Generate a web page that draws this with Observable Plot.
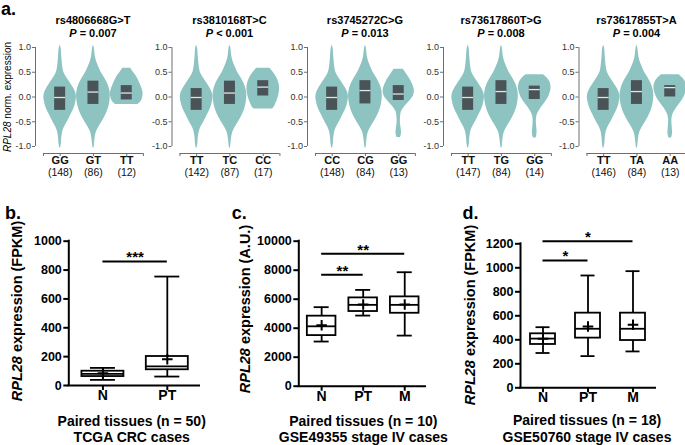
<!DOCTYPE html>
<html><head><meta charset="utf-8">
<script src="https://cdn.jsdelivr.net/npm/d3@7"></script>
<script src="https://cdn.jsdelivr.net/npm/@observablehq/plot@0.6"></script>
<style>
body{margin:0;background:#fff;font-family:"Liberation Sans",Arial,sans-serif;overflow:hidden}
#root{position:relative;width:685px;height:445px;overflow:hidden;background:#fff}
.layer{position:absolute;left:0;top:0}
.t{position:absolute;white-space:nowrap;transform:translate(-50%,-50%);line-height:1;color:#000}
.r{transform:translate(-50%,-50%) rotate(-90deg)}
.lab{position:absolute;font-weight:bold;font-size:18px;line-height:1;color:#000}
</style></head><body><div id="root"></div>
<script>
// ---------- Panel a data ----------
const snpNames = ["rs4806668G>T","rs3810168T>C","rs3745272C>G","rs73617860T>G","rs73617855T>A"];
const pLabels = ["= 0.007","< 0.001","= 0.013","= 0.008","= 0.004"];
const genotypes = [["GG","GT","TT"],["TT","TC","CC"],["CC","CG","GG"],["TT","TG","GG"],["TT","TA","AA"]];
const genoCounts = [[148,86,12],[142,87,17],[148,84,13],[147,84,14],[146,84,13]];
const boxQ1 = [[-0.27,-0.15,-0.06],[-0.27,-0.15,0.02],[-0.27,-0.14,-0.07],[-0.27,-0.15,-0.05],[-0.27,-0.15,0.0]];
const boxMedian = [[-0.01,0.1,0.08],[-0.01,0.08,0.2],[-0.01,0.13,0.06],[-0.01,0.11,0.15],[-0.01,0.11,0.19]];
const boxQ3 = [[0.2,0.32,0.23],[0.17,0.32,0.33],[0.2,0.33,0.23],[0.2,0.33,0.22],[0.17,0.33,0.23]];
const aTicks = [-1,-0.5,0,0.5,1];
// violin density outlines: [value, half-width in category units]
const densityMajor = [[1.03,0.015],[0.95,0.035],[0.85,0.045],[0.72,0.06],[0.6,0.08],[0.5,0.11],[0.4,0.19],[0.3,0.29],[0.18,0.4],[0.08,0.47],[0.0,0.49],[-0.1,0.47],[-0.22,0.42],[-0.35,0.33],[-0.5,0.22],[-0.62,0.12],[-0.72,0.07],[-0.85,0.045],[-0.95,0.035],[-1.03,0.015]];
const densityHet = [[1.03,0.015],[0.95,0.035],[0.85,0.05],[0.75,0.08],[0.62,0.15],[0.5,0.23],[0.38,0.34],[0.25,0.44],[0.1,0.5],[-0.05,0.5],[-0.2,0.46],[-0.35,0.38],[-0.5,0.26],[-0.62,0.15],[-0.72,0.08],[-0.85,0.045],[-0.95,0.03],[-1.03,0.015]];
const densityFlat = [[0.58,0.12],[0.5,0.2],[0.42,0.29],[0.3,0.38],[0.2,0.44],[0.08,0.49],[0.0,0.48],[-0.08,0.44],[-0.15,0.34]];
const densityHex = [[0.58,0.2],[0.5,0.3],[0.4,0.4],[0.28,0.47],[0.15,0.49],[0.02,0.46],[-0.1,0.4],[-0.2,0.33],[-0.24,0.28]];
const densityTail = [[0.56,0.14],[0.48,0.22],[0.4,0.3],[0.28,0.4],[0.13,0.47],[0.02,0.44],[-0.08,0.33],[-0.2,0.17],[-0.3,0.08],[-0.4,0.055],[-0.53,0.05],[-0.65,0.075],[-0.75,0.08],[-0.82,0.05]];
const densityWideTail = [[0.45,0.26],[0.38,0.38],[0.3,0.46],[0.2,0.49],[0.1,0.47],[-0.02,0.4],[-0.12,0.3],[-0.25,0.16],[-0.35,0.08],[-0.45,0.05],[-0.58,0.055],[-0.7,0.07],[-0.78,0.06],[-0.83,0.04]];
const violinProfiles = [
  [densityMajor, densityHet, densityFlat],
  [densityMajor, densityHet, densityHex],
  [densityMajor, densityHet, densityTail],
  [densityMajor, densityHet, densityWideTail],
  [densityMajor, densityHet, densityWideTail]
];

// ---------- Panel b data (TCGA) ----------
const tcgaGroups = ["N","PT"];
const tcgaMin = [39,62], tcgaQ1 = [62,109], tcgaMedian = [81,132], tcgaQ3 = [99,201], tcgaMax = [122,755], tcgaMean = [85,182];
const tcgaTicks = [0,200,400,600,800,1000];
const tcgaSig = [{from:0,to:1,y:860,label:"***"}];
// ---------- Panel c data (GSE49355) ----------
const g49Groups = ["N","PT","M"];
const g49Min = [3080,4870,3490], g49Q1 = [3490,5150,5030], g49Median = [4130,5610,5610], g49Q3 = [4830,6090,6160], g49Max = [5450,6640,7860], g49Mean = [4200,5630,5630];
const g49Ticks = [0,2000,4000,6000,8000,10000];
const g49Sig = [{from:0,to:1,y:7680,label:"**"},{from:0,to:2,y:9130,label:"**"}];
// ---------- Panel d data (GSE50760) ----------
const g50Groups = ["N","PT","M"];
const g50Min = [290,264,303], g50Q1 = [361,414,394], g50Median = [410,492,492], g50Q3 = [450,622,622], g50Max = [505,936,972], g50Mean = [408,511,525];
const g50Ticks = [0,200,400,600,800,1000,1200];
const g50Sig = [{from:0,to:1,y:1061,label:"*"},{from:0,to:2,y:1222,label:"*"}];

// ---------- styles ----------
const FONT = "'Liberation Sans', Arial, sans-serif";
const violinFill = "#8dc4c2", boxFill = "#4a5357", medianColor = "#dde8e8", aAxis = "#6e6e6e";
const W = 700, H = 445;
const root = document.getElementById("root");
const svgStyle = {background: "none", overflow: "visible", maxWidth: "none", fontFamily: FONT};
function addSvg(svg) { svg.classList.add("layer"); root.appendChild(svg); }
function addText(html, x, y, css = {}, cls = "t") {
  const d = document.createElement("div"); d.className = cls; d.innerHTML = html;
  d.style.left = x + "px"; d.style.top = y + "px"; Object.assign(d.style, css); root.appendChild(d);
}

// ---------- Panel a ----------
const aAxisX = [35, 171.5, 307, 443, 578.5];
const aUnit = 33.3, aGap = 0.74;
aAxisX.forEach((ax, i) => {
  const rows = [];
  violinProfiles[i].forEach((prof, g) => prof.forEach(([v, w]) => rows.push({g, v, w})));
  const boxes = genotypes[i].map((name, g) => ({g, q1: boxQ1[i][g], med: boxMedian[i][g], q3: boxQ3[i][g]}));
  const hb = 0.165;
  addSvg(Plot.plot({
    width: W, height: H,
    marginLeft: ax, marginRight: W - ax - (2.5 + aGap) * aUnit, marginTop: 47, marginBottom: H - 146,
    x: {domain: [-aGap, 2.5]},
    y: {domain: [-1, 1]},
    style: svgStyle,
    marks: [
      Plot.areaX(rows, {y: "v", x1: d => d.g - d.w, x2: d => d.g + d.w, z: "g", fill: violinFill, curve: "catmull-rom"}),
      Plot.rect(boxes, {x1: d => d.g - hb, x2: d => d.g + hb, y1: "q1", y2: "q3", fill: boxFill}),
      Plot.ruleY(boxes, {x1: d => d.g - hb, x2: d => d.g + hb, y: "med", stroke: medianColor, strokeWidth: 1.3}),
      Plot.ruleX([-aGap], {y1: -1, y2: 1, stroke: aAxis}),
      Plot.axisY({ticks: aTicks, tickSize: 3, tickFormat: () => "", stroke: aAxis, label: null}),
      Plot.text(aTicks, {y: d => d, text: d => d.toFixed(1), frameAnchor: "left", textAnchor: "end", dx: -4.5, fontSize: 9, fill: "#333"}),
      Plot.ruleY([-1], {x1: -0.5, x2: 2.5, dy: 7, stroke: aAxis}),
      Plot.axisX({ticks: [-0.5, 0, 1, 2, 2.5], tickSize: 3, dy: 7, tickFormat: () => "", stroke: aAxis, label: null}),
      Plot.text(genotypes[i], {x: (d, j) => j, text: d => d, frameAnchor: "bottom", dy: 17, fontSize: 11, fontWeight: "bold", fill: "#111"}),
      Plot.text(genoCounts[i], {x: (d, j) => j, text: d => `(${d})`, frameAnchor: "bottom", dy: 29, fontSize: 10.5, fill: "#111"})
    ]
  }));
  const cx = ax + (1 + aGap) * aUnit;
  addText(snpNames[i].replace(">", "&gt;"), cx, 20, {fontSize: "11px", fontWeight: "bold"});
  addText(`<i>P</i> ${pLabels[i].replace("<", "&lt;")}`, cx, 33.3, {fontSize: "11px", fontWeight: "bold"});
});
addText("<i>RPL28</i> norm. expression", 7.5, 97, {fontSize: "10px"}, "t r");

// ---------- Box panels ----------
function boxPanel(cfg) {
  const {groups, mins, q1s, meds, q3s, maxs, means, ticks, sig, left, right, y0, yTop, xdom, boxPx, capPx} = cfg;
  const unit = (right - left) / (xdom[1] - xdom[0]);
  const hb = boxPx / unit, hc = capPx / unit;
  const yMax = ticks[ticks.length - 1];
  const data = groups.map((g, i) => ({i, min: mins[i], q1: q1s[i], med: meds[i], q3: q3s[i], max: maxs[i], mean: means[i]}));
  addSvg(Plot.plot({
    width: W, height: H,
    marginLeft: left, marginRight: W - right, marginTop: yTop, marginBottom: H - y0,
    x: {domain: xdom},
    y: {domain: [0, yMax]},
    style: svgStyle,
    marks: [
      Plot.ruleX(data, {x: "i", y1: "q3", y2: "max", strokeWidth: 1.8}),
      Plot.ruleX(data, {x: "i", y1: "min", y2: "q1", strokeWidth: 1.8}),
      Plot.ruleY(data, {x1: d => d.i - hc, x2: d => d.i + hc, y: "max", strokeWidth: 1.8}),
      Plot.ruleY(data, {x1: d => d.i - hc, x2: d => d.i + hc, y: "min", strokeWidth: 1.8}),
      Plot.rect(data, {x1: d => d.i - hb, x2: d => d.i + hb, y1: "q1", y2: "q3", fill: "white", stroke: "black", strokeWidth: 1.8}),
      Plot.ruleY(data, {x1: d => d.i - hb, x2: d => d.i + hb, y: "med", strokeWidth: 1.8}),
      Plot.dot(data, {x: "i", y: "mean", symbol: "plus", r: 3.5, stroke: "black", strokeWidth: 2}),
      Plot.ruleY(sig, {x1: "from", x2: "to", y: "y", strokeWidth: 2}),
      Plot.text(sig, {x: d => (d.from + d.to) / 2, y: "y", text: "label", lineAnchor: "bottom", dy: 1, fontSize: 15, fontWeight: "bold"}),
      Plot.ruleX([xdom[0]], {y1: 0, y2: yMax, strokeWidth: 2, strokeLinecap: "square"}),
      Plot.ruleY([0], {x1: xdom[0], x2: xdom[1], strokeWidth: 2, strokeLinecap: "square"}),
      Plot.axisY({ticks, tickSize: 5, strokeWidth: 2, tickFormat: () => "", color: "black", label: null}),
      Plot.text(ticks, {y: d => d, text: d3.format("d"), frameAnchor: "left", textAnchor: "end", dx: -7, fontSize: 12.5, fontWeight: "bold"}),
      Plot.axisX({ticks: groups.map((g, i) => i), tickSize: 5, strokeWidth: 2, tickFormat: () => "", color: "black", label: null}),
      Plot.text(groups, {x: (d, i) => i, text: d => d, frameAnchor: "bottom", dy: 14.5, fontSize: 14, fontWeight: "bold"})
    ]
  }));
}
boxPanel({groups: tcgaGroups, mins: tcgaMin, q1s: tcgaQ1, meds: tcgaMedian, q3s: tcgaQ3, maxs: tcgaMax, means: tcgaMean, ticks: tcgaTicks, sig: tcgaSig,
  left: 68.3, right: 199, y0: 385, yTop: 240.7, xdom: [-0.53, 1.5], boxPx: 21, capPx: 12.5});
boxPanel({groups: g49Groups, mins: g49Min, q1s: g49Q1, meds: g49Median, q3s: g49Q3, maxs: g49Max, means: g49Mean, ticks: g49Ticks, sig: g49Sig,
  left: 298.3, right: 425, y0: 385.7, yTop: 240.7, xdom: [-0.55, 2.5], boxPx: 14.3, capPx: 7.5});
boxPanel({groups: g50Groups, mins: g50Min, q1s: g50Q1, meds: g50Median, q3s: g50Q3, maxs: g50Max, means: g50Mean, ticks: g50Ticks, sig: g50Sig,
  left: 520, right: 655, y0: 387.3, yTop: 243.3, xdom: [-0.5, 2.5], boxPx: 12.5, capPx: 7});

// ---------- texts ----------
const tb = {fontSize: "14px", fontWeight: "bold"};
const ty = {fontSize: "14.5px", fontWeight: "bold"};
addText("<i>RPL28</i> expression (FPKM)", 16.7, 311, ty, "t r");
addText("<i>RPL28</i> expression (A.U.)", 245, 308.5, ty, "t r");
addText("<i>RPL28</i> expression (FPKM)", 470, 315, ty, "t r");
addText("Paired tissues (n = 50)", 131.7, 420.7, tb);
addText("TCGA CRC cases", 131.7, 436.7, tb);
addText("Paired tissues (n = 10)", 363.3, 420.7, tb);
addText("GSE49355 stage IV cases", 363.3, 436.7, tb);
addText("Paired tissues (n = 18)", 587, 420, tb);
addText("GSE50760 stage IV cases", 587, 436.7, tb);
[["a.", 1, 0], ["b.", 5, 203.8], ["c.", 231.7, 203.8], ["d.", 462.5, 203.8]].forEach(([t, x, y]) => {
  const d = document.createElement("div"); d.className = "lab"; d.textContent = t;
  d.style.left = x + "px"; d.style.top = y + "px"; root.appendChild(d);
});
</script></body></html>
